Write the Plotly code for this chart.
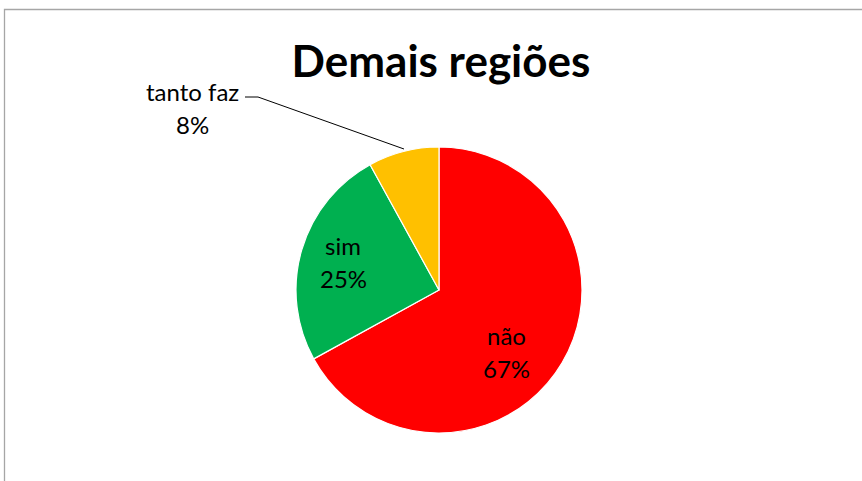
import plotly.graph_objects as go

W, H = 862, 481

labels = ["não", "sim", "tanto faz"]
values = [67, 25, 8]
colors = ["#FF0000", "#00B050", "#FFC000"]
title_text = "Demais regiões"

total = sum(values)
pct_values = [f"{round(v * 100 / total)}%" for v in values]

# layout positions (pixels from top-left)
cx, cy, r = 439, 290, 143
label_pos = [(506, 352), (343, 262), (192, 107.5)]  # centre of two-line label
line_gap = 33


def p(x, y):
    return x / W, 1 - y / H


fig = go.Figure()
fig.add_trace(go.Pie(
    labels=labels,
    values=values,
    sort=False,
    direction="clockwise",
    rotation=0,
    marker=dict(colors=colors, line=dict(color="white", width=1.2)),
    textinfo="none",
    hoverinfo="label+percent",
    showlegend=False,
    domain=dict(x=[(cx - r) / W, (cx + r) / W], y=[1 - (cy + r) / H, 1 - (cy - r) / H]),
))

for name, pct, (lx, ly) in zip(labels, pct_values, label_pos):
    for txt, yy in ((name, ly - line_gap / 2), (pct, ly + line_gap / 2)):
        ax_, ay_ = p(lx, yy)
        fig.add_annotation(
            x=ax_, y=ay_, xref="paper", yref="paper",
            text=txt, showarrow=False,
            font=dict(family="Lato", size=24, color="black"),
            align="center", xanchor="center", yanchor="middle",
        )

# leader line for the small slice
a, b, c = p(245, 97), p(258, 97), p(404, 149)
fig.add_shape(type="path", xref="paper", yref="paper",
              path=f"M {a[0]} {a[1]} L {b[0]} {b[1]} L {c[0]} {c[1]}",
              line=dict(color="black", width=1))

# chart border
fig.add_shape(type="rect", xref="paper", yref="paper",
              x0=4.5 / W, y0=-0.02, x1=1.02, y1=1 - 9.5 / H,
              line=dict(color="#A6A6A6", width=1.3))

fig.update_layout(
    width=W, height=H,
    margin=dict(l=0, r=0, t=0, b=0),
    paper_bgcolor="white",
    plot_bgcolor="white",
    title=dict(text=f"<b>{title_text}</b>", x=441 / W, xanchor="center",
               y=1 - 62 / H, yanchor="middle", yref="container",
               font=dict(family="Lato", size=44, color="black")),
)

fig.write_html("out.html", config={"displayModeBar": False},
               post_script="document.body.style.margin='0px';")
